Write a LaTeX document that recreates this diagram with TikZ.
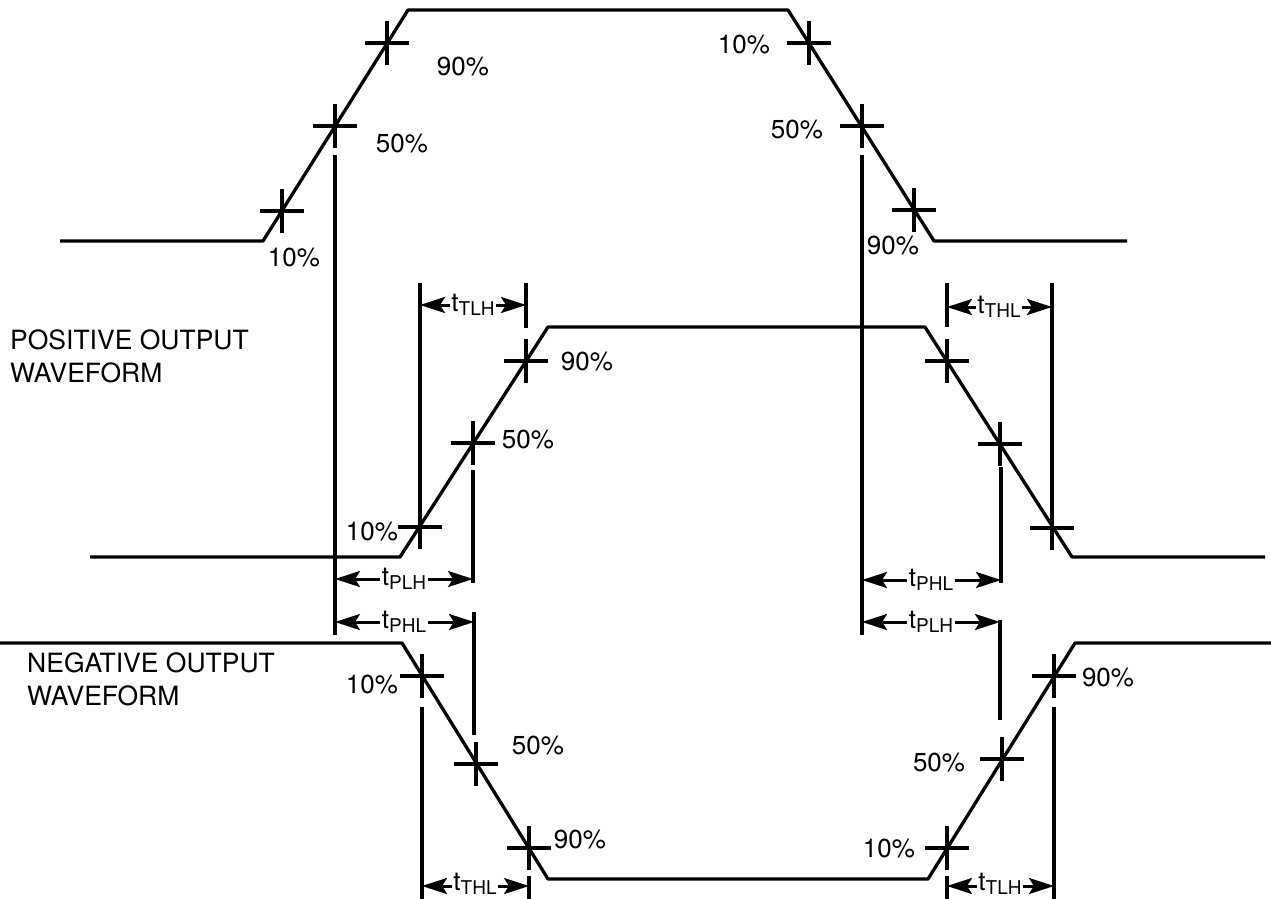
\documentclass[tikz,border=0pt]{standalone}
\usepackage{fontspec}
\setmainfont{TeX Gyre Heros}
\usetikzlibrary{arrows.meta,calc}
\newcommand\tsub[2]{#1\raisebox{-4pt}{\fontsize{19}{19}\selectfont #2}}
\tikzset{>={Stealth[length=25pt,width=16pt,inset=5pt]}}
\begin{document}
\begin{tikzpicture}[x=1pt,y=-1pt,
  wave/.style={line width=3.3pt, line join=round},
  tick/.style={line width=3.1pt},
  vline/.style={line width=3.1pt},
  dim/.style={line width=3pt, ->},
  pct/.style={font=\fontsize{26}{30}\selectfont, inner sep=0pt},
  tlab/.style={font=\fontsize{26}{30}\selectfont, inner sep=1.5pt},
  head/.style={font=\fontsize{26.5}{33}\selectfont, align=left, inner sep=0pt, anchor=base west},
  crs/.pic={\draw[tick] (-22,0) -- (22,0) (0,-22) -- (0,22);}]
\useasboundingbox (0,0) rectangle (1271,899);

% ---------- input waveform ----------
\coordinate (i0) at (60,241);  \coordinate (i1) at (263,241);
\coordinate (i2) at (408,10);  \coordinate (i3) at (788,10);
\coordinate (i4) at (934,241); \coordinate (i5) at (1127,241);
\draw[wave] (i0) -- (i1) -- (i2) -- (i3) -- (i4) -- (i5);
\coordinate (ia) at (282,211); \coordinate (ib) at (335,126); \coordinate (ic) at (387,43);
\coordinate (id) at (809,43);  \coordinate (ie) at (862,126); \coordinate (if) at (914,210);
\foreach \c in {ia,ib,ic,id,ie,if} \pic at (\c) {crs};
\node[pct] (l1) at (294,258) {10\%};
\node[pct] (l2) at (402,144) {50\%};
\node[pct] (l3) at (463,67) {90\%};
\node[pct] (l4) at (744,45) {10\%};
\node[pct] (l5) at (797,130) {50\%};
\node[pct] (l6) at (893,246) {90\%};

% long reference verticals
\coordinate (va1) at (335,155); \coordinate (va2) at (335,635);
\coordinate (vb1) at (862,155); \coordinate (vb2) at (862,635);
\draw[vline] (va1) -- (va2);
\draw[vline] (vb1) -- (vb2);

% ---------- positive output ----------
\coordinate (p0) at (90,557);   \coordinate (p1) at (400,557);
\coordinate (p2) at (548,327);  \coordinate (p3) at (925,327);
\coordinate (p4) at (1072,557); \coordinate (p5) at (1265,557);
\draw[wave] (p0) -- (p1) -- (p2) -- (p3) -- (p4) -- (p5);
\coordinate (pa) at (420,527); \coordinate (pb) at (473,443); \coordinate (pc) at (526,361);
\coordinate (pd) at (947,361); \coordinate (pe) at (1000,444); \coordinate (pf) at (1052,528);
\foreach \c in {pa,pb,pc,pd,pe,pf} \pic at (\c) {crs};
\node[pct] (m1) at (372,532) {10\%};
\node[pct] (m2) at (528,440) {50\%};
\node[pct] (m3) at (587,362) {90\%};
\node[head] (hp) at (10,382) {POSITIVE OUTPUT\\WAVEFORM};

% dimension verticals (positive)
\coordinate (q1) at (420,283); \draw[vline] (q1) -- (pa);
\coordinate (q2) at (526,283); \coordinate (q3) at (526,328); \draw[vline] (q2) -- (q3);
\coordinate (q4) at (473,470); \coordinate (q5) at (473,583); \draw[vline] (q4) -- (q5);
\coordinate (q6) at (947,283); \coordinate (q7) at (947,327); \draw[vline] (q6) -- (q7);
\coordinate (q8) at (1052,283); \draw[vline] (q8) -- (pf);
\coordinate (q9) at (1001,467); \coordinate (q10) at (1001,583); \draw[vline] (q9) -- (q10);

% ---------- negative output ----------
\coordinate (n0) at (0,643);    \coordinate (n1) at (402,643);
\coordinate (n2) at (548,879);  \coordinate (n3) at (928,879);
\coordinate (n4) at (1075,643); \coordinate (n5) at (1271,643);
\draw[wave] (n0) -- (n1) -- (n2) -- (n3) -- (n4) -- (n5);
\coordinate (na) at (422,676); \coordinate (nb) at (476,764); \coordinate (nc) at (529,848);
\coordinate (nd) at (947,848); \coordinate (ne) at (1002,759); \coordinate (nf) at (1054,676);
\foreach \c in {na,nb,nc,nd,ne,nf} \pic at (\c) {crs};
\node[pct] (k1) at (372,685) {10\%};
\node[pct] (k2) at (538,746) {50\%};
\node[pct] (k3) at (580,840) {90\%};
\node[pct] (k4) at (889,849) {10\%};
\node[pct] (k5) at (939,763) {50\%};
\node[pct] (k6) at (1108,678) {90\%};
\node[head] (hn) at (27,705) {NEGATIVE OUTPUT\\WAVEFORM};

% dimension verticals (negative)
\coordinate (r1) at (474,612); \coordinate (r2) at (474,735); \draw[vline] (r1) -- (r2);
\coordinate (r3) at (422,707); \coordinate (r4) at (422,899); \draw[vline] (r3) -- (r4);
\coordinate (r5) at (529,876); \coordinate (r6) at (529,899); \draw[vline] (r5) -- (r6);
\coordinate (r7) at (1000,620); \coordinate (r8) at (1000,720); \draw[vline] (r7) -- (r8);
\coordinate (r9) at (947,876); \coordinate (r10) at (947,899); \draw[vline] (r9) -- (r10);
\coordinate (r11) at (1054,707); \coordinate (r12) at (1054,899); \draw[vline] (r11) -- (r12);

% ---------- timing labels with arrows ----------
\node[tlab] (tTLHa) at (473,305) {\tsub{t}{TLH}};
\coordinate (a1) at (420,305); \coordinate (a2) at (526,305);
\draw[dim] (tTLHa.west) -- (a1); \draw[dim] (tTLHa.east) -- (a2);

\node[tlab] (tTHLa) at (999,307) {\tsub{t}{THL}};
\coordinate (a3) at (947,307); \coordinate (a4) at (1052,307);
\draw[dim] (tTHLa.west) -- (a3); \draw[dim] (tTHLa.east) -- (a4);

\node[tlab] (tPLHa) at (404,579) {\tsub{t}{PLH}};
\coordinate (a5) at (335,579); \coordinate (a6) at (473,579);
\draw[dim] (tPLHa.west) -- (a5); \draw[dim] (tPLHa.east) -- (a6);

\node[tlab] (tPHLa) at (931,580) {\tsub{t}{PHL}};
\coordinate (a7) at (862,580); \coordinate (a8) at (1001,580);
\draw[dim] (tPHLa.west) -- (a7); \draw[dim] (tPHLa.east) -- (a8);

\node[tlab] (tPHLb) at (404,622) {\tsub{t}{PHL}};
\coordinate (b1) at (335,622); \coordinate (b2) at (474,622);
\draw[dim] (tPHLb.west) -- (b1); \draw[dim] (tPHLb.east) -- (b2);

\node[tlab] (tPLHb) at (931,622) {\tsub{t}{PLH}};
\coordinate (b3) at (862,622); \coordinate (b4) at (1000,622);
\draw[dim] (tPLHb.west) -- (b3); \draw[dim] (tPLHb.east) -- (b4);

\node[tlab] (tTHLb) at (475,884) {\tsub{t}{THL}};
\coordinate (b5) at (422,886); \coordinate (b6) at (529,886);
\draw[dim] (tTHLb.west |- b5) -- (b5); \draw[dim] (tTHLb.east |- b6) -- (b6);

\node[tlab] (tTLHb) at (1000,884) {\tsub{t}{TLH}};
\coordinate (b7) at (947,886); \coordinate (b8) at (1054,886);
\draw[dim] (tTLHb.west |- b7) -- (b7); \draw[dim] (tTLHb.east |- b8) -- (b8);
\end{tikzpicture}
\end{document}
